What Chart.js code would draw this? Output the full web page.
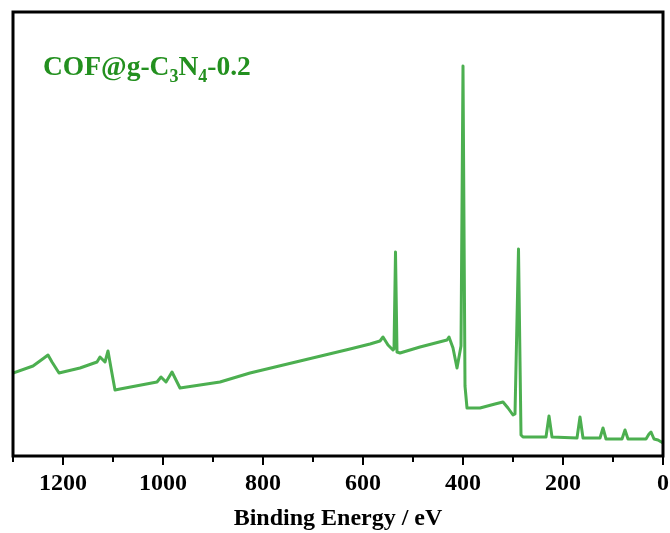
<!DOCTYPE html>
<html>
<head>
<meta charset="utf-8">
<script src="https://cdn.jsdelivr.net/npm/chart.js@4.4.1/dist/chart.umd.min.js"></script>
<style>
  html, body { margin: 0; padding: 0; background: #fff; }
  #wrap { position: relative; width: 670px; height: 533px; }
</style>
</head>
<body>
<div id="wrap"><canvas id="xpsSurvey" width="670" height="533"></canvas></div>
<script>
// XPS survey spectrum, COF@g-C3N4-0.2 (binding energy in eV, intensity in a.u.)
const bindingEnergy = [
  1300, 1260, 1238, 1230, 1222, 1208, 1166, 1132, 1126, 1116, 1110, 1104, 1096, 1086,
  1012, 1004, 994, 982, 974, 966, 926, 886, 826, 726, 626, 586, 566, 560, 550, 540,
  538, 535, 532, 526, 486, 432, 428, 420, 412, 404, 400, 396, 392, 366, 336, 320,
  310, 300, 296, 289, 284, 280, 260, 234, 228, 222, 172, 166, 160, 126, 120, 114,
  82, 76, 70, 34, 28, 24, 18, 10, 0
];
const intensity = [
  83, 90, 98, 101, 94, 83, 88, 94, 99, 94, 105, 88, 66, 67,
  74, 79, 74, 84, 76, 68, 71, 74, 83, 95, 107, 112, 115, 119, 111, 106,
  107, 204, 104, 103, 109, 116, 119, 108, 88, 110, 390, 70, 48, 48, 52, 54,
  48, 41, 42, 207, 21, 19, 19, 19, 40, 19, 18, 39, 18, 18, 28, 17,
  17, 26, 17, 17, 22, 24, 17, 16, 13
];
const xTicksMajor = [1200, 1000, 800, 600, 400, 200, 0];

const LINE_GREEN = '#4caf50';
const TEXT_GREEN = '#23901f';
const SERIF = '"Liberation Serif", "Times New Roman", serif';

// frame, outward tick marks (major + minor) and the sample label
const framePlugin = {
  id: 'frame',
  afterDraw(chart) {
    const { ctx, chartArea: a } = chart;
    const xs = chart.scales.x;
    ctx.save();
    ctx.strokeStyle = '#000';
    ctx.lineWidth = 3;
    ctx.strokeRect(a.left, a.top, a.right - a.left, a.bottom - a.top);

    ctx.lineWidth = 2;
    for (let v = 0; v <= 1300; v += 100) {
      const x = Math.round(xs.getPixelForValue(v));
      const len = xTicksMajor.includes(v) ? 9 : 6;
      ctx.beginPath();
      ctx.moveTo(x, a.bottom);
      ctx.lineTo(x, a.bottom + len);
      ctx.stroke();
    }

    // COF@g-C3N4-0.2 with subscripts
    const parts = [
      ['COF@g-C', false], ['3', true], ['N', false], ['4', true], ['-0.2', false]
    ];
    let x = 43;
    const base = 75;
    ctx.fillStyle = TEXT_GREEN;
    ctx.textBaseline = 'alphabetic';
    ctx.textAlign = 'left';
    parts.forEach(([t, sub]) => {
      ctx.font = 'bold ' + (sub ? 18 : 27.5) + 'px ' + SERIF;
      ctx.fillText(t, x, sub ? base + 7 : base);
      x += ctx.measureText(t).width;
    });
    ctx.restore();
  }
};

const points = bindingEnergy.map((e, i) => ({ x: e, y: intensity[i] }));

const chart = new Chart(document.getElementById('xpsSurvey'), {
  type: 'line',
  data: {
    datasets: [{
      data: points,
      borderColor: LINE_GREEN,
      borderWidth: 3,
      borderJoinStyle: 'round',
      borderCapStyle: 'round',
      pointRadius: 0,
      tension: 0,
      fill: false
    }]
  },
  options: {
    responsive: false,
    animation: false,
    devicePixelRatio: 1,
    layout: { padding: { left: 13, right: 7, top: 12, bottom: 0 } },
    plugins: { legend: { display: false }, tooltip: { enabled: false } },
    scales: {
      x: {
        type: 'linear',
        reverse: true,
        min: 0,
        max: 1300,
        border: { display: false },
        grid: { display: false, drawTicks: true, tickLength: 9 },
        ticks: {
          stepSize: 100,
          autoSkip: false,
          maxRotation: 0,
          padding: 4,
          color: '#000',
          font: { family: SERIF, size: 24, weight: 'bold' },
          callback: (v) => (xTicksMajor.includes(v) ? String(v) : '')
        },
        title: {
          display: true,
          text: 'Binding Energy / eV',
          color: '#000',
          font: { family: SERIF, size: 24, weight: 'bold' },
          padding: { top: 6, bottom: 0 }
        },
        afterFit: (scale) => {
          scale.height = 77;
          // keep the edge labels from shrinking the plot area
          scale.paddingLeft = 0;
          scale.paddingRight = 0;
        }
      },
      y: {
        display: false,
        min: 0,
        max: 444
      }
    }
  },
  plugins: [framePlugin]
});
</script>
</body>
</html>
